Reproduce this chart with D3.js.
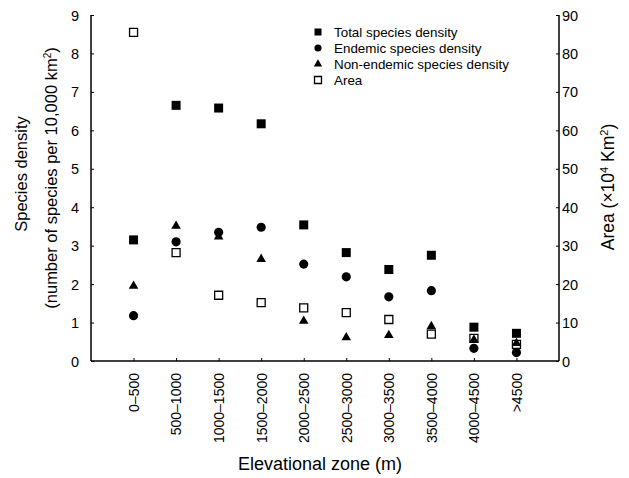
<!DOCTYPE html>
<html><head><meta charset="utf-8">
<script src="https://cdn.jsdelivr.net/npm/d3@7"></script>
<style>body{margin:0;background:#fff;} text{font-family:Arial,"Liberation Sans",sans-serif;}</style>
</head><body>
<svg id="c" width="629" height="478"></svg>
<script>
const zones = ["0–500","500–1000","1000–1500","1500–2000","2000–2500","2500–3000","3000–3500","3500–4000","4000–4500",">4500"];
const totalDensity = [3.15,6.65,6.58,6.17,3.54,2.82,2.38,2.75,0.88,0.72];
const endemicDensity = [1.18,3.10,3.35,3.48,2.52,2.19,1.67,1.83,0.33,0.22];
const nonEndemicDensity = [1.95,3.51,3.23,2.65,1.04,0.61,0.67,0.90,0.55,0.46];
const area = [85.5,28.2,17.1,15.2,13.8,12.6,10.8,7.0,5.9,4.3];
const leftTicks = [0,1,2,3,4,5,6,7,8,9];
const rightTicks = [0,10,20,30,40,50,60,70,80,90];

const svg = d3.select("#c");
const L = 91, R = 559, T = 15, B = 361;
// 11 slots along the axis: categories sit at slots 1..10
const xs = d3.scaleLinear().domain([0, 11]).range([L, R]);
const xp = d => xs(zones.indexOf(d) + 1);
const yL = d3.scaleLinear().domain([0, 9]).range([B, T]);
const yR = d3.scaleLinear().domain([0, 90]).range([B, T]);

// axes
const gl = svg.append("g").attr("transform", `translate(${L},0)`)
  .call(d3.axisRight(yL).tickValues(leftTicks).tickSize(3).tickFormat(""));
gl.selectAll(".tick").append("text").attr("x", -12).attr("dy", "0.35em")
  .attr("text-anchor", "end").attr("font-size", 14.5).attr("fill", "#000").text(d => d);
const gr = svg.append("g").attr("transform", `translate(${R},0)`)
  .call(d3.axisLeft(yR).tickValues(rightTicks).tickSize(3).tickFormat(""));
gr.selectAll(".tick").append("text").attr("x", 3).attr("dy", "0.35em")
  .attr("text-anchor", "start").attr("font-size", 14.5).attr("fill", "#000").text(d => d);
const gb = svg.append("g").attr("transform", `translate(0,${B})`)
  .call(d3.axisTop(xs).tickValues(d3.range(1, 11)).tickSize(3).tickFormat(""));
gb.selectAll(".tick").append("text")
  .attr("transform", "rotate(-90)").attr("x", -12).attr("y", 0).attr("dy", "0.35em")
  .attr("text-anchor", "end").attr("font-size", 14).attr("fill", "#000")
  .text((d, i) => zones[i]);
[gl, gr, gb].forEach(g => { g.select(".domain").attr("stroke", "#000").attr("stroke-width", 1.5); g.selectAll(".tick line").attr("stroke", "#000"); });
gl.select(".domain").attr("d", `M0,${T}V${B}`);
gr.select(".domain").attr("d", `M0,${T}V${B}`);
gb.select(".domain").attr("d", `M${L},0H${R}`);

// axis titles
svg.append("text").attr("transform", "translate(27,174) rotate(-90)").attr("text-anchor", "middle")
  .attr("font-size", 16.5).text("Species density");
const t2 = svg.append("text").attr("transform", "translate(57,178) rotate(-90)").attr("text-anchor", "middle").attr("font-size", 16.5);
t2.append("tspan").text("(number of species per 10,000 km");
t2.append("tspan").attr("font-size", 10).attr("dy", -6).text("2");
t2.append("tspan").attr("dy", 6).text(")");
const t3 = svg.append("text").attr("transform", "translate(614,187) rotate(-90)").attr("text-anchor", "middle").attr("font-size", 17.5);
t3.append("tspan").text("Area (×10");
t3.append("tspan").attr("font-size", 11).attr("dy", -6).text("4");
t3.append("tspan").attr("dy", 6).text(" Km");
t3.append("tspan").attr("font-size", 11).attr("dy", -6).text("2");
t3.append("tspan").attr("dy", 6).text(")");
svg.append("text").attr("x", 320).attr("y", 470).attr("text-anchor", "middle").attr("font-size", 18).text("Elevational zone (m)");

// markers
const sq = d3.symbol().type(d3.symbolSquare).size(81);
const ci = d3.symbol().type(d3.symbolCircle).size(66);
const tr = d3.symbol().type(d3.symbolTriangle).size(40);
const osq = d3.symbol().type(d3.symbolSquare).size(64);

svg.append("g").selectAll("path").data(zones).join("path")
  .attr("d", ci).attr("transform", (d, i) => `translate(${xp(d)},${yL(endemicDensity[i])})`).attr("fill", "#000");
svg.append("g").selectAll("path").data(zones).join("path")
  .attr("d", tr).attr("transform", (d, i) => `translate(${xp(d)},${yL(nonEndemicDensity[i])})`).attr("fill", "#000");
svg.append("g").selectAll("path").data(zones).join("path")
  .attr("d", osq).attr("transform", (d, i) => `translate(${xp(d)},${yR(area[i])})`).attr("fill", "none").attr("stroke", "#000").attr("stroke-width", 1.3);
svg.append("g").selectAll("path").data(zones).join("path")
  .attr("d", sq).attr("transform", (d, i) => `translate(${xp(d)},${yL(totalDensity[i])})`).attr("fill", "#000");

// legend
const legendItems = ["Total species density","Endemic species density","Non-endemic species density","Area"];
const legendTypes = [d3.symbolSquare, d3.symbolCircle, d3.symbolTriangle, d3.symbolSquare];
const legendSizes = [49, 40, 30, 49];
const lg = svg.append("g");
legendItems.forEach((s, i) => {
  const yy = 32 + i * 16;
  const p = lg.append("path").attr("transform", `translate(318,${yy})`)
    .attr("d", d3.symbol().type(legendTypes[i]).size(legendSizes[i]));
  if (i === 3) p.attr("fill", "none").attr("stroke", "#000").attr("stroke-width", 1.3);
  else p.attr("fill", "#000");
  lg.append("text").attr("x", 334).attr("y", yy).attr("dy", "0.35em").attr("font-size", 13.4).text(s);
});
</script>
</body></html>
